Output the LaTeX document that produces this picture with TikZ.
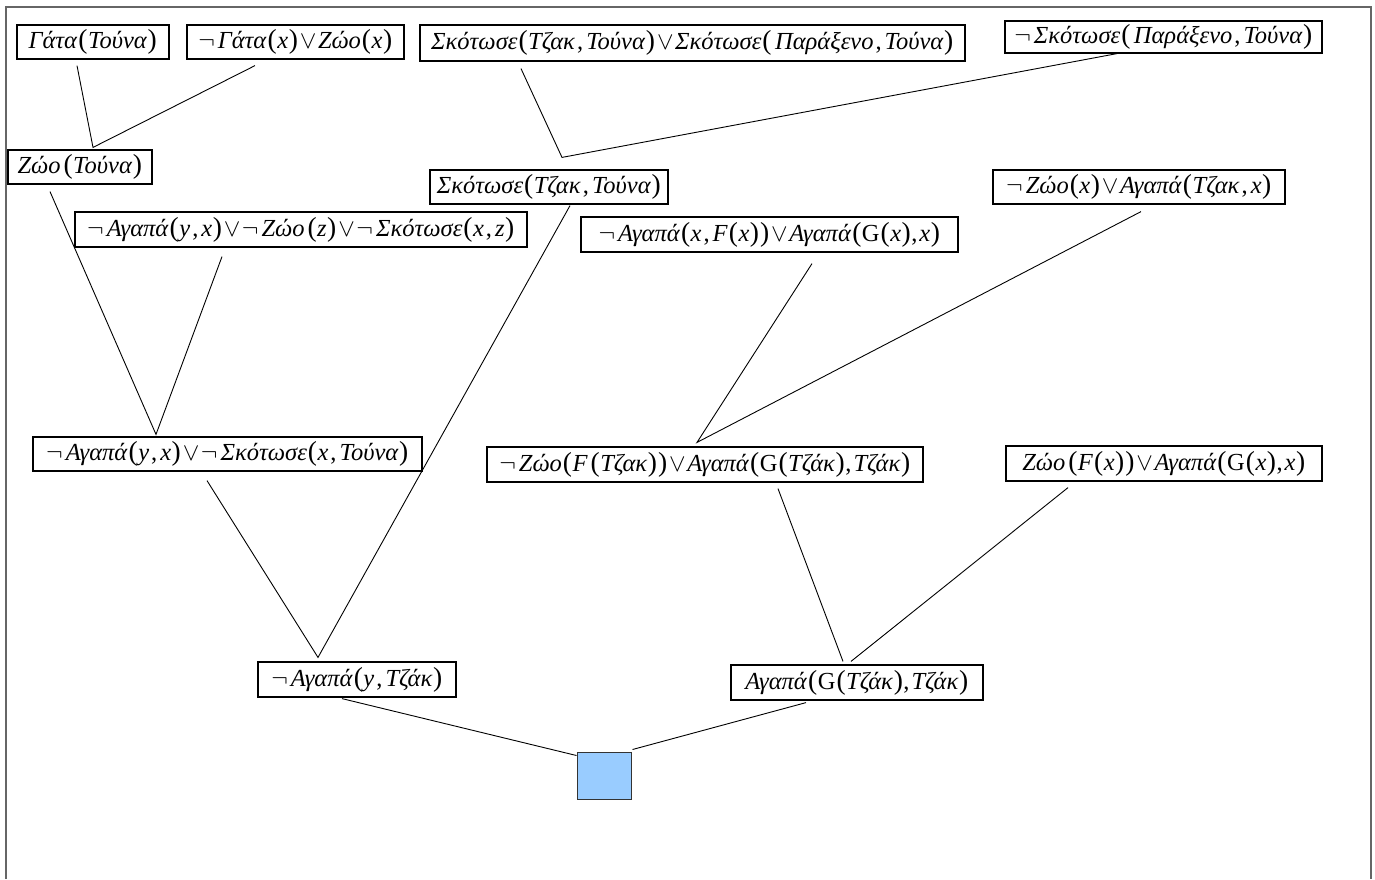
\documentclass[tikz,border=0pt]{standalone}
\usepackage{fontspec}
\setmainfont{Liberation Serif}
\usetikzlibrary{calc}
\newcommand\tw[1]{\textit{#1}}
\newcommand\clneg{$\neg$\kern3pt}
\newcommand\clvee{\kern1.5pt$\vee$\kern1.5pt}
\newcommand\lp{\kern1pt{\fontsize{27.5}{28}\selectfont(}\kern0.5pt}
\newcommand\rp{\kern0.5pt{\fontsize{27.5}{28}\selectfont)}\kern0.5pt}
\newcommand\cm{\kern2pt,\kern3pt}
\definecolor{boxblue}{HTML}{99CCFF}
\definecolor{framegray}{HTML}{666666}
\begin{document}
\begin{tikzpicture}[x=1pt,y=-1pt,
  clause/.style={draw=black, line width=1.2pt, inner sep=0pt, align=center,
    font=\fontsize{24.5}{28}\selectfont},
  link/.style={draw=black, line width=0.9pt}]
\useasboundingbox (0,0) rectangle (1375,879);
% page frame (open at the bottom)
\draw[framegray, line width=1.6pt] (6,879) -- (6,7) -- (1371,7) -- (1371,879);

% clauses
\node[clause, minimum width=152, minimum height=34] (g1) at (93,42) {\tw{Γάτα}\lp\tw{Τούνα}\rp};
\node[clause, minimum width=217, minimum height=34] (g2) at (295.5,42) {\clneg\tw{Γάτα}\lp\tw{x}\rp\clvee\tw{Ζώο}\lp\tw{x}\rp};
\node[clause, minimum width=545, minimum height=36] (g3) at (692.5,43) {\tw{Σκότωσε}\lp\tw{Τζακ}\cm\tw{Τούνα}\rp\clvee\tw{Σκότωσε}\lp\kern3pt\tw{Παράξενο}\cm\tw{Τούνα}\rp};
\node[clause, minimum width=317, minimum height=32] (g4) at (1163.5,37) {\clneg\tw{Σκότωσε}\lp\kern3pt\tw{Παράξενο}\cm\tw{Τούνα}\rp};
\node[clause, minimum width=144, minimum height=34] (g5) at (80,167) {\tw{Ζώο}\kern2pt\lp\tw{Τούνα}\rp};
\node[clause, minimum width=238, minimum height=34] (g6) at (549,187) {\tw{Σκότωσε}\lp\tw{Τζακ}\cm\tw{Τούνα}\rp};
\node[clause, minimum width=452, minimum height=35] (g7) at (301,229.5) {\clneg\tw{Αγαπά}\lp\tw{y}\cm\tw{x}\rp\clvee\clneg\tw{Ζώο}\kern2pt\lp\tw{z}\rp\clvee\clneg\tw{Σκότωσε}\lp\tw{x}\cm\tw{z}\rp};
\node[clause, minimum width=292, minimum height=34] (g8) at (1139,187) {\clneg\tw{Ζώο}\lp\tw{x}\rp\clvee\tw{Αγαπά}\lp\tw{Τζακ}\cm\tw{x}\rp};
\node[clause, minimum width=377, minimum height=35] (g9) at (769.5,234.5) {\clneg\tw{Αγαπά}\lp\tw{x}\cm\tw{F}\lp\tw{x}\rp\rp\clvee\tw{Αγαπά}\lp G\lp\tw{x}\rp,\kern2pt\tw{x}\rp};
\node[clause, minimum width=389, minimum height=34] (g10) at (227.5,454) {\clneg\tw{Αγαπά}\lp\tw{y}\cm\tw{x}\rp\clvee\clneg\tw{Σκότωσε}\lp\tw{x}\cm\tw{Τούνα}\rp};
\node[clause, minimum width=436, minimum height=35] (g11) at (705,464.5) {\clneg\tw{Ζώο}\lp\tw{F}\kern2pt\lp\tw{Τζακ}\rp\rp\clvee\tw{Αγαπά}\lp G\lp\tw{Τζάκ}\rp,\kern2pt\tw{Τζάκ}\rp};
\node[clause, minimum width=316, minimum height=35] (g12) at (1164,463.5) {\tw{Ζώο}\kern2pt\lp\tw{F}\lp\tw{x}\rp\rp\clvee\tw{Αγαπά}\lp G\lp\tw{x}\rp,\kern2pt\tw{x}\rp};
\node[clause, minimum width=198, minimum height=35] (g13) at (357,679.5) {\clneg\tw{Αγαπά}\lp\tw{y}\cm\tw{Τζάκ}\rp};
\node[clause, minimum width=252, minimum height=35] (g14) at (857,682.5) {\tw{Αγαπά}\lp G\lp\tw{Τζάκ}\rp,\kern2pt\tw{Τζάκ}\rp};
% empty clause
\node[draw=black!80, fill=boxblue, line width=1pt, minimum width=54, minimum height=47, inner sep=0pt] (sq) at (604,775.5) {};

% meeting points of the resolution steps
\coordinate (j1) at ([xshift=13pt,yshift=2pt]g5.north);
\coordinate (j2) at ([xshift=-71.5pt,yshift=2pt]g10.north);
\coordinate (j3) at ([xshift=13pt,yshift=12pt]g6.north);
\coordinate (j4) at ([xshift=-39pt,yshift=4pt]g13.north);
\coordinate (j5) at ([xshift=-8pt,yshift=4pt]g11.north);

% resolution links
\draw[link] ([xshift=-16pt,yshift=-6pt]g1.south) -- (j1) -- ([xshift=-40.5pt,yshift=-6pt]g2.south);
\draw[link] ([xshift=-30pt,yshift=-7pt]g5.south) -- (j2) -- ([xshift=-79pt,yshift=-9pt]g7.south);
\draw[link] ([xshift=-171.5pt,yshift=-7pt]g3.south) -- (j3) -- ([xshift=-46.5pt]g4.south);
\draw[link] ([xshift=21pt,yshift=-1pt]g6.south) -- (j4) -- ([xshift=-20.5pt,yshift=-9pt]g10.south);
\draw[link] ([xshift=42.5pt,yshift=-11pt]g9.south) -- (j5) -- ([xshift=2pt,yshift=-7pt]g8.south);
\draw[link] ([xshift=73pt,yshift=-6pt]g11.south) -- ([xshift=-14pt,yshift=3pt]g14.north);
\draw[link] ([xshift=-96pt,yshift=-6pt]g12.south) -- ([xshift=-6pt,yshift=3pt]g14.north);
\draw[link] ([xshift=-15pt,yshift=-1pt]g13.south) -- ([yshift=-4pt]sq.north west);
\draw[link] ([xshift=-51pt,yshift=-2pt]g14.south) -- ([xshift=1pt,yshift=2pt]sq.north east);
\end{tikzpicture}
\end{document}
